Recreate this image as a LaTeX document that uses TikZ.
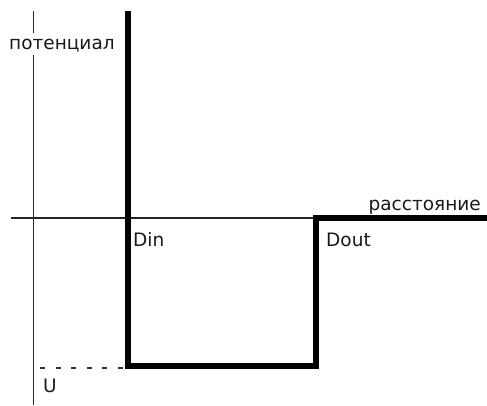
\documentclass[tikz,border=0pt]{standalone}
\usepackage{fontspec}
\setmainfont{DejaVu Sans}
\usetikzlibrary{positioning}

\begin{document}
\begin{tikzpicture}[x=1pt, y=-1pt, font=\fontsize{18.5}{21}\selectfont,
	eje/.style={line width=1.8pt, draw=black!85},
	pozo/.style={line width=5.5pt, line join=miter, line cap=butt},
	nivel/.style={line width=1.4pt, draw=black!80, dash pattern=on 5pt off 10.5pt},
	rotulo/.style={inner sep=0pt, text=black!90}]

	\useasboundingbox (0,0) rectangle (487,405);

	% ejes
	\coordinate (ytop) at (33.5,11);
	\coordinate (ybot) at (33.5,405);
	\coordinate (xizq) at (11,218);
	\coordinate (xder) at (487,218);
	\node[rotulo, anchor=base west] (pot) at (9,49) {потенциал};
	\node[rotulo, anchor=base east] (dist) at (481,210) {расстояние};
	\draw[eje] (ytop) -- (ytop |- 0,33);
	\draw[eje] (ytop |- 0,55) -- (ybot);
	\draw[eje] (xizq) -- (xder);

	% el pozo de potencial
	\coordinate (arr) at (128,11);
	\coordinate (din) at (128,218);
	\coordinate (fi) at (128,366);
	\coordinate (fd) at (316,366);
	\coordinate (dout) at (316,218);
	\draw[pozo] (arr) -- (fi) -- (fd) -- (dout) -- (xder);
	\node[rotulo, anchor=base west] (ldin) at (133,246) {Din};
	\node[rotulo, anchor=base west] (ldout) at (326,246) {Dout};

	\coordinate (u0) at (40,368);
	\draw[nivel] (u0) -- (u0 -| fi);
	\node[rotulo, anchor=base west] (lu) at (43,392) {U};
\end{tikzpicture}
\end{document}
